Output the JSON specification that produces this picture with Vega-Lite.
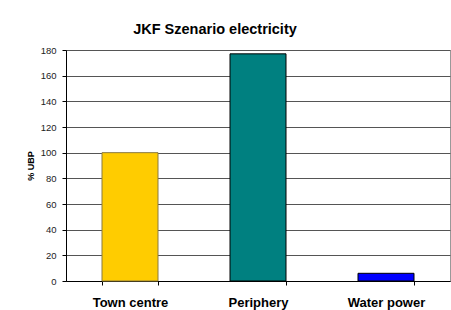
{
  "$schema": "https://vega.github.io/schema/vega-lite/v6.json",
  "width": 384,
  "height": 231,
  "autosize": {"type": "none"},
  "padding": {"left": 66, "top": 50, "right": 1, "bottom": 29},
  "background": "white",
  "title": {
    "text": "JKF Szenario electricity",
    "font": "Liberation Sans",
    "fontSize": 14.5,
    "fontWeight": "bold",
    "color": "black",
    "anchor": "middle",
    "dx": -43,
    "offset": 8
  },
  "data": {
    "values": [
      {"category": "Town centre", "value": 100},
      {"category": "Periphery", "value": 177},
      {"category": "Water power", "value": 6}
    ]
  },
  "mark": {"type": "bar", "strokeWidth": 1},
  "encoding": {
    "x": {
      "field": "category",
      "type": "nominal",
      "sort": null,
      "scale": {"paddingInner": 0.5625, "paddingOuter": 0.28125},
      "axis": {
        "title": null,
        "labelAngle": 0,
        "labelFont": "Liberation Sans",
        "labelFontSize": 13,
        "labelFontWeight": "bold",
        "labelColor": "black",
        "labelPadding": 11,
        "tickBand": "extent",
        "tickSize": 4,
        "tickColor": "black",
        "domainColor": "black",
        "grid": false
      }
    },
    "y": {
      "field": "value",
      "type": "quantitative",
      "scale": {"domain": [0, 180], "nice": false},
      "axis": {
        "title": "% UBP",
        "titleFont": "Liberation Sans",
        "titleFontSize": 9,
        "titleFontWeight": "bold",
        "titleColor": "black",
        "titlePadding": 5,
        "values": [0, 20, 40, 60, 80, 100, 120, 140, 160, 180],
        "labelFont": "Liberation Sans",
        "labelFontSize": 9.5,
        "labelColor": "#222222",
        "labelPadding": 6,
        "tickSize": 4,
        "tickColor": "black",
        "domainColor": "black",
        "grid": true,
        "gridColor": "#555555",
        "gridWidth": 1
      }
    },
    "color": {
      "field": "category",
      "type": "nominal",
      "sort": null,
      "scale": {"domain": ["Town centre", "Periphery", "Water power"], "range": ["#FFCC00", "#008080", "#0000FF"]},
      "legend": null
    },
    "stroke": {
      "field": "category",
      "type": "nominal",
      "sort": null,
      "scale": {"domain": ["Town centre", "Periphery", "Water power"], "range": ["#8a7a40", "#000000", "#000000"]},
      "legend": null
    }
  },
  "config": {
    "view": {"stroke": "#999999", "strokeWidth": 1}
  }
}
